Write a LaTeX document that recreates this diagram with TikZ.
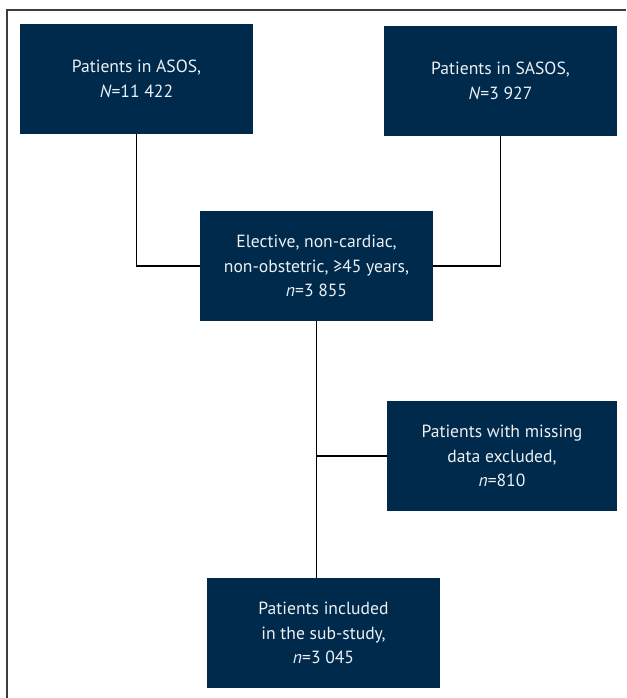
\documentclass[tikz,border=0pt]{standalone}
\usepackage{fontspec}
\setmainfont{PT Sans}
\definecolor{navy}{RGB}{0,42,76}
\definecolor{boxtext}{RGB}{236,240,244}
\definecolor{framegray}{RGB}{60,60,60}
\begin{document}
\begin{tikzpicture}[x=1pt,y=1pt,
  flowbox/.style={rectangle, fill=navy, text=boxtext, minimum width=233pt, minimum height=110pt,
    inner sep=0pt, align=center, font=\fontsize{17.6}{24.5}\selectfont},
  link/.style={draw=black, line width=1.2pt}]
\useasboundingbox (0,0) rectangle (626,-698);
\draw[framegray, line width=1.3pt] (7,-698) -- (7,-10) -- (626,-10);
\node[flowbox] (asos) at (136.5,-79) {Patients in ASOS,\\\textit{N}=11 422};
\node[flowbox] (sasos) at (500.5,-81) {Patients in SASOS,\\\textit{N}=3 927};
\node[flowbox] (elect) at (316.5,-266) {Elective, non-cardiac,\\non-obstetric, ≥45 years,\\\textit{n}=3 855};
\node[flowbox, minimum width=230pt] (miss) at (502,-456) {Patients with missing\\data excluded,\\\textit{n}=810};
\node[flowbox] (incl) at (323.5,-633) {Patients included\\in the sub-study,\\\textit{n}=3 045};
\draw[link] (asos.south) |- (elect.west);
\draw[link] (sasos.south) |- (elect.east);
\draw[link] (elect.south) -- (elect.south |- incl.north);
\coordinate (j) at (elect.south |- miss.west);
\draw[link] (j) -- (miss.west);
\end{tikzpicture}
\end{document}
